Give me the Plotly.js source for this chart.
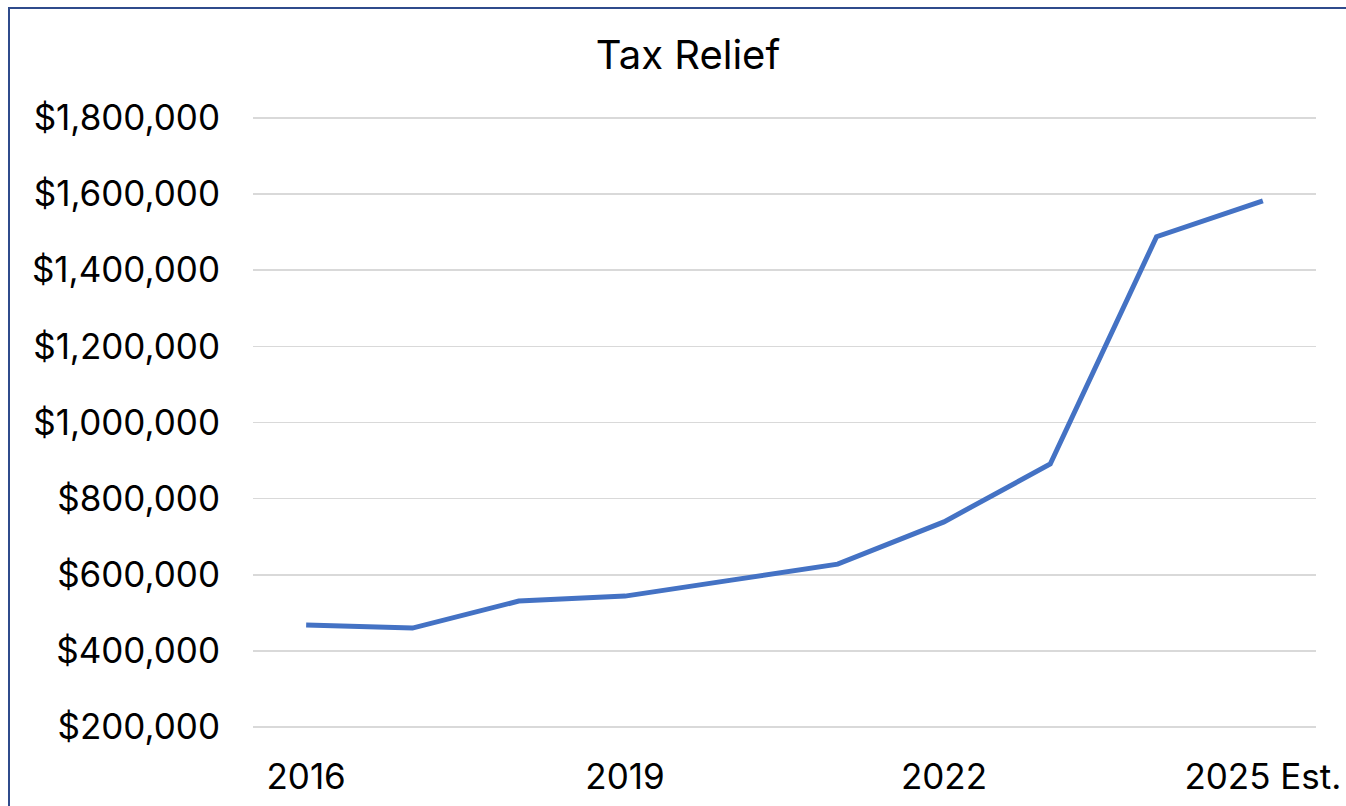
<!DOCTYPE html>
<html>
<head>
<meta charset="utf-8">
<script src="https://cdn.plot.ly/plotly-3.0.1.min.js"></script>
<style>
html,body{margin:0;padding:0;background:#fff;overflow:hidden;}
#frame{position:absolute;left:8px;top:7px;width:1400px;height:900px;border-left:2px solid #2f4b8c;border-top:2px solid #2f4b8c;}
#chart{position:absolute;left:0;top:0;width:1346px;height:806px;}
</style>
</head>
<body>
<div id="chart"></div>
<div id="frame"></div>
<script>
const years = ["2016","2017","2018","2019","2020","2021","2022","2023","2024","2025 Est."];
const taxRelief = [468000, 460000, 531000, 544000, 586000, 628000, 739000, 891000, 1488000, 1582000];
const xTickIdx = [0, 3, 6, 9];
const yTicks = [200000,400000,600000,800000,1000000,1200000,1400000,1600000,1800000];

const trace = {
  x: years.map((_, i) => i),
  y: taxRelief,
  type: 'scatter',
  mode: 'lines',
  line: {color: '#4472C4', width: 5},
  hoverinfo: 'skip'
};

const layout = {
  width: 1346, height: 806,
  margin: {l: 253, r: 30, t: 116, b: 77},
  paper_bgcolor: '#ffffff',
  plot_bgcolor: '#ffffff',
  showlegend: false,
  font: {family: 'Inter, Liberation Sans, Arial, sans-serif', color: '#000', size: 35},
  title: {text: 'Tax Relief', x: 688/1346, xref: 'container', xanchor: 'center', y: 1 - 55/806, yanchor: 'middle', font: {size: 40, color: '#000'}},
  xaxis: {
    range: [-0.5, 9.5],
    tickvals: xTickIdx,
    ticktext: xTickIdx.map(i => years[i]),
    showgrid: false, zeroline: false, showline: false,
    ticks: '', ticklabelstandoff: 24,
    tickfont: {size: 35}
  },
  yaxis: {
    range: [195000, 1805000],
    tickvals: yTicks,
    ticktext: yTicks.map(v => '$' + v.toLocaleString('en-US')),
    showgrid: true, gridcolor: '#d9d9d9', gridwidth: 1.5,
    zeroline: false, showline: false,
    ticks: '', ticklabelstandoff: 32,
    tickfont: {size: 35}
  }
};
Plotly.newPlot('chart', [trace], layout, {staticPlot: true});
</script>
</body>
</html>
